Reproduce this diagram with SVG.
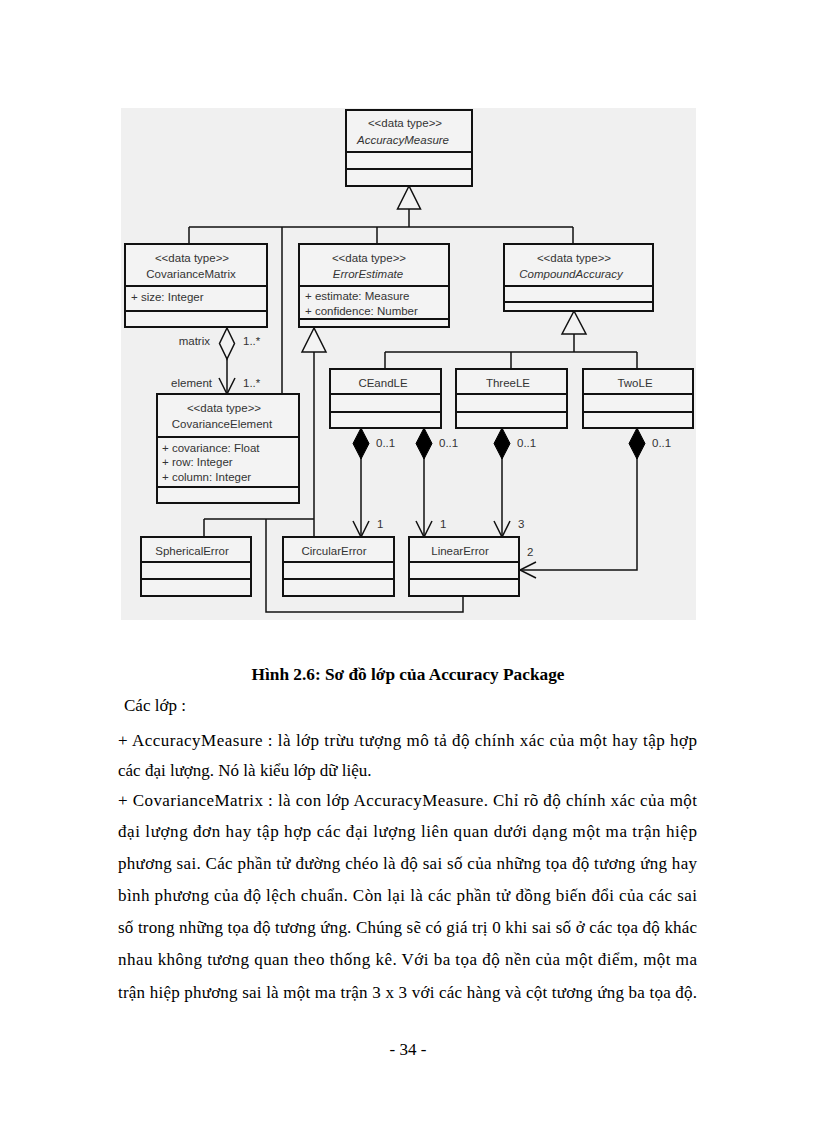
<svg xmlns="http://www.w3.org/2000/svg" width="816" height="1123" viewBox="0 0 816 1123">
<style>
.box{fill:#f3f3f3;stroke:#111;stroke-width:2}
.dv{stroke:#111;stroke-width:2}
.ln{stroke:#111;stroke-width:1.5;fill:none}
.tri{fill:#f3f3f3;stroke:#111;stroke-width:1.5}
.t{font-family:"Liberation Sans",Arial,sans-serif;font-size:11.5px;fill:#333}
.c{text-anchor:middle}
.i{font-style:italic}
.body{font-family:"Liberation Serif","Times New Roman",serif;font-size:17px;fill:#000}
.cap{font-family:"Liberation Serif","Times New Roman",serif;font-size:17.3px;font-weight:bold;fill:#000;text-anchor:middle}
</style>
<defs>
<marker id="open" markerUnits="userSpaceOnUse" markerWidth="24" markerHeight="24" viewBox="-20 -12 24 24" refX="0" refY="0" orient="auto"><path d="M-16,-8 L0,0 L-16,8" fill="none" stroke="#111" stroke-width="1.5"/></marker>
<marker id="fdia" markerUnits="userSpaceOnUse" markerWidth="40" markerHeight="20" viewBox="-2 -10 40 20" refX="0" refY="0" orient="auto"><path d="M0,0 L15.5,-8 L31,0 L15.5,8 Z" fill="#000" stroke="#000" stroke-width="1"/></marker>
<marker id="hdia" markerUnits="userSpaceOnUse" markerWidth="40" markerHeight="20" viewBox="-2 -10 40 20" refX="0" refY="0" orient="auto"><path d="M0,0 L15.5,-7.5 L31,0 L15.5,7.5 Z" fill="#f3f3f3" stroke="#111" stroke-width="1.5"/></marker>
</defs>
<rect width="816" height="1123" fill="#fff"/>
<rect x="121" y="108" width="575" height="512" fill="#f0f0f0"/>

<g id="connectors">
<path class="ln" d="M409,209 V227 M189,227 H573 M189,227 V244 M282,227 V394 M377,227 V244 M573,227 V244"/>
<path class="tri" d="M409,186 L397.5,209 L420.5,209 Z"/>
<path class="ln" d="M574,334 V352 M385,352 H637 M385,352 V369 M511,352 V369 M637,352 V369"/>
<path class="tri" d="M574,311 L562,334 L586,334 Z"/>
<path class="ln" d="M314,352 V537 M204,519 H314 M204,519 V537 M266,519 V612 H463 V596"/>
<path class="tri" d="M314,328 L302,352 L326,352 Z"/>
<path class="ln" d="M227,328 V394" marker-start="url(#hdia)" marker-end="url(#open)"/>
<path class="ln" d="M361,428 V537" marker-start="url(#fdia)" marker-end="url(#open)"/>
<path class="ln" d="M424,428 V537" marker-start="url(#fdia)" marker-end="url(#open)"/>
<path class="ln" d="M502,428 V537" marker-start="url(#fdia)" marker-end="url(#open)"/>
<path class="ln" d="M637,428 V570 H520" marker-start="url(#fdia)" marker-end="url(#open)"/>
<text class="t" x="210" y="345" text-anchor="end">matrix</text>
<text class="t" x="243" y="345">1..*</text>
<text class="t" x="212" y="387" text-anchor="end">element</text>
<text class="t" x="243" y="387">1..*</text>
<text class="t" x="376" y="447">0..1</text>
<text class="t" x="439" y="447">0..1</text>
<text class="t" x="517" y="447">0..1</text>
<text class="t" x="652" y="447">0..1</text>
<text class="t" x="377" y="528">1</text>
<text class="t" x="440" y="528">1</text>
<text class="t" x="518" y="528">3</text>
<text class="t" x="527" y="556">2</text>
</g>

<g id="AccuracyMeasure">
<rect class="box" x="346" y="110" width="126" height="76"/>
<path class="dv" d="M346,152 H472 M346,169 H472"/>
<text class="t c" x="405" y="127">&lt;&lt;data type&gt;&gt;</text>
<text class="t c i" x="403" y="144">AccuracyMeasure</text>
</g>

<g id="CovarianceMatrix">
<rect class="box" x="125" y="244" width="142" height="83"/>
<path class="dv" d="M125,286 H267 M125,311 H267"/>
<text class="t c" x="192" y="262">&lt;&lt;data type&gt;&gt;</text>
<text class="t c" x="191" y="278">CovarianceMatrix</text>
<text class="t" x="131" y="301">+ size: Integer</text>
</g>

<g id="ErrorEstimate">
<rect class="box" x="299" y="244" width="150" height="83"/>
<path class="dv" d="M299,286 H449 M299,319 H449"/>
<text class="t c" x="369" y="262">&lt;&lt;data type&gt;&gt;</text>
<text class="t c i" x="368" y="278">ErrorEstimate</text>
<text class="t" x="305" y="300">+ estimate: Measure</text>
<text class="t" x="305" y="315">+ confidence: Number</text>
</g>

<g id="CompoundAccuracy">
<rect class="box" x="504" y="244" width="149" height="67"/>
<path class="dv" d="M504,286 H653 M504,302 H653"/>
<text class="t c" x="574" y="262">&lt;&lt;data type&gt;&gt;</text>
<text class="t c i" x="571" y="278">CompoundAccuracy</text>
</g>

<g id="CovarianceElement">
<rect class="box" x="157" y="394" width="142" height="109"/>
<path class="dv" d="M157,437 H299 M157,487 H299"/>
<text class="t c" x="224" y="412">&lt;&lt;data type&gt;&gt;</text>
<text class="t c" x="222" y="428">CovarianceElement</text>
<text class="t" x="162" y="452">+ covariance: Float</text>
<text class="t" x="162" y="466">+ row: Integer</text>
<text class="t" x="162" y="481">+ column: Integer</text>
</g>

<g id="CEandLE">
<rect class="box" x="330" y="369" width="111" height="59"/>
<path class="dv" d="M330,394 H441 M330,412 H441"/>
<text class="t c" x="383" y="387">CEandLE</text>
</g>

<g id="ThreeLE">
<rect class="box" x="456" y="369" width="111" height="59"/>
<path class="dv" d="M456,394 H567 M456,412 H567"/>
<text class="t c" x="508" y="387">ThreeLE</text>
</g>

<g id="TwoLE">
<rect class="box" x="583" y="369" width="110" height="59"/>
<path class="dv" d="M583,394 H693 M583,412 H693"/>
<text class="t c" x="635" y="387">TwoLE</text>
</g>

<g id="SphericalError">
<rect class="box" x="141" y="537" width="110" height="59"/>
<path class="dv" d="M141,562 H251 M141,579 H251"/>
<text class="t c" x="192" y="555">SphericalError</text>
</g>

<g id="CircularError">
<rect class="box" x="283" y="537" width="111" height="59"/>
<path class="dv" d="M283,562 H394 M283,579 H394"/>
<text class="t c" x="334" y="555">CircularError</text>
</g>

<g id="LinearError">
<rect class="box" x="409" y="537" width="110" height="59"/>
<path class="dv" d="M409,562 H519 M409,579 H519"/>
<text class="t c" x="460" y="555">LinearError</text>
</g>

<g id="text">
<text class="cap" x="408" y="680">Hình 2.6: Sơ đồ lớp của Accuracy Package</text>
<text class="body" x="124" y="711">Các lớp :</text>
<text class="body" x="118" y="746" textLength="579" lengthAdjust="spacing">+ AccuracyMeasure : là lớp trừu tượng mô tả độ chính xác của một hay tập hợp</text>
<text class="body" x="118" y="776">các đại lượng. Nó là kiểu lớp dữ liệu.</text>
<text class="body" x="118" y="806" textLength="579" lengthAdjust="spacing">+ CovarianceMatrix : là con lớp AccuracyMeasure. Chỉ rõ độ chính xác của một</text>
<text class="body" x="118" y="837" textLength="579" lengthAdjust="spacing">đại lượng đơn hay tập hợp các đại lượng liên quan dưới dạng một ma trận hiệp</text>
<text class="body" x="118" y="869" textLength="579" lengthAdjust="spacing">phương sai. Các phần tử đường chéo là độ sai số của những tọa độ tương ứng hay</text>
<text class="body" x="118" y="901" textLength="579" lengthAdjust="spacing">bình phương của độ lệch chuẩn. Còn lại là các phần tử đồng biến đổi của các sai</text>
<text class="body" x="118" y="933" textLength="579" lengthAdjust="spacing">số trong những tọa độ tương ứng. Chúng sẽ có giá trị 0 khi sai số ở các tọa độ khác</text>
<text class="body" x="118" y="965" textLength="579" lengthAdjust="spacing">nhau không tương quan theo thống kê. Với ba tọa độ nền của một điểm, một ma</text>
<text class="body" x="118" y="998" textLength="579" lengthAdjust="spacing">trận hiệp phương sai là một ma trận 3 x 3 với các hàng và cột tương ứng ba tọa độ.</text>
<text class="body" x="408" y="1055" text-anchor="middle">- 34 -</text>
</g>
</svg>
